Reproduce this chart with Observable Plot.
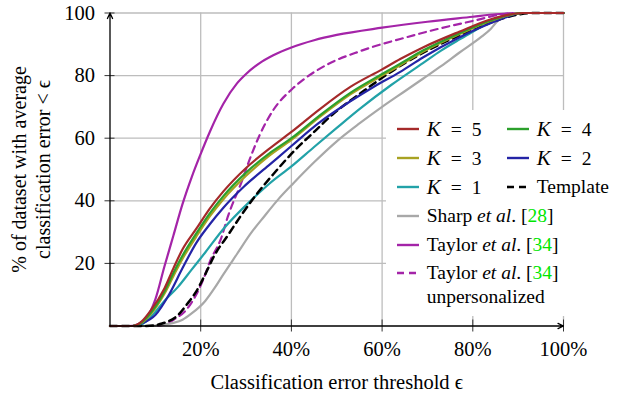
<!DOCTYPE html>
<html>
<head>
<meta charset="utf-8">
<script src="https://cdn.jsdelivr.net/npm/d3@7"></script>
<script src="https://cdn.jsdelivr.net/npm/@observablehq/plot@0.6"></script>
<style>
  body { margin: 0; background: #fff; }
  #wrap { position: relative; width: 617px; height: 396px; font-family: "Liberation Serif", "Times New Roman", Times, "DejaVu Serif", serif; }
  #wrap svg text { font-family: "Liberation Serif", "Times New Roman", Times, "DejaVu Serif", serif; }
  #legend { position: absolute; left: 386px; top: 110px; width: 231px; height: 206px; background: #fff; font-size: 19.5px; color: #000; }
  .item { position: absolute; white-space: nowrap; line-height: 24px; }
  .item svg { position: absolute; top: 2px; }
  .cite { color: #00e600; }
  .eq { margin: 0 10px; }
  .mk { font-size: 21px; }
</style>
</head>
<body>
<div id="wrap"></div>
<script>
// ---- data (x = classification error threshold %, y = % of dataset) ----
const xTicks = [20, 40, 60, 80, 100];
const yTicks = [20, 40, 60, 80, 100];

const k5 = [[0,0],[5,0],[7,1.5],[9,5],[12,12],[14,18.5],[16,24.5],[19,31],[22,37.5],[25,43],[30,50.5],[35,56.5],[40,62],[46,69],[53,76.4],[60,82],[64,85.3],[69,89],[77,94],[84,98],[88,99.5],[91,100],[100,100]];
const k4 = [[0,0],[5,0],[7,1.2],[9,4.2],[12,11],[14,17],[16,22.5],[19,29.5],[22,36],[25,41.5],[30,49],[35,55],[40,60],[46,67],[53,74.5],[60,80.5],[64,83.8],[69,88],[77,93.5],[84,97.7],[88,99.4],[91,100],[100,100]];
const k3 = [[0,0],[5,0],[7,1],[9,3.8],[12,10.3],[14,16],[16,21.5],[19,28.5],[22,35],[25,40.5],[30,48],[35,54.3],[40,59.5],[46,66.5],[53,74],[60,80],[64,83.3],[69,87.6],[77,93.2],[84,97.5],[88,99.3],[91,100],[100,100]];
const k2 = [[0,0],[5,0],[7,0.8],[10,3.5],[13,10],[16,18.5],[19,26.5],[22,32.5],[25,37.8],[29.5,44.5],[35,51.3],[40,57.5],[46,64.8],[53,71.8],[58,76.3],[64,81.2],[69,85.8],[77,92.2],[84,96.8],[88,99],[91,100],[100,100]];
const k1 = [[0,0],[6,0],[8,1.5],[10,4.5],[12,8],[15,12.5],[18,18],[21,23.5],[25,31],[31,40],[35,45.3],[40,51],[45,57.2],[50,63.3],[55,69.3],[62,77],[69,84],[73,88],[77,91.5],[80,94],[84,97.3],[88,99.3],[92,100],[100,100]];
const template = [[0,0],[8,0],[11.5,0.8],[15,3.5],[17,7],[19,11],[21,16.5],[23,22.5],[26,29],[29,35.5],[32,41.5],[36,48.5],[41,56.5],[45,62],[49,67.5],[53,72],[57,76.2],[60,79.3],[65,84],[70,88],[75,91.5],[80,94.5],[85,97.5],[90,99.5],[93,100],[100,100]];
const sharp = [[0,0],[8,0],[11,0.3],[14,1],[16,2],[18,4],[21,8],[23,12],[25,16.5],[28,23],[31,29.5],[34,35],[37,40.3],[40.5,45.7],[45,52.3],[50,59],[55,64.7],[60,70],[65,75],[69,79],[73,83],[77,87.3],[82,92.5],[84,95],[85.5,97.5],[88,99.3],[90,100],[100,100]];
const taylor = [[0,0],[4,0],[6,0.5],[8,2.5],[10,8.5],[12,19],[14,29],[16,39],[18,47.5],[20,55],[22,62],[25,71],[28,77.5],[30,80.5],[33,84],[36,86.5],[40,89],[45,91.3],[50,93],[60,95.3],[70,97.2],[80,98.8],[85,99.6],[90,100],[100,100]];
const taylorUnpers = [[0,0],[10,0],[12,0.5],[14,2],[17,5.5],[19,10],[21,16.5],[22,20.5],[24.5,28],[26,35],[29,46],[31,54],[33,61],[36,69],[40,75.5],[42,78],[46,82],[50,85],[54,87.2],[58,89.2],[64,91.7],[72,94.8],[81,97.8],[86,99.5],[90,100],[100,100]];

const colors = {
  k5: "#a52a2a", k4: "#2ca02c", k3: "#a8a222", k2: "#2424a6",
  k1: "#22a2a8", template: "#000000", sharp: "#a8a8a8", taylor: "#a424a8"
};

const lineOpts = (color, dash) => ({
  x: d => d[0], y: d => d[1], stroke: color, strokeWidth: 2.2,
  curve: "monotone-x", strokeDasharray: dash || null
});

const serif = "'Liberation Serif', 'Times New Roman', Times, 'DejaVu Serif', serif";

const chart = Plot.plot({
  width: 617, height: 396,
  marginLeft: 109.5, marginRight: 54, marginTop: 12.5, marginBottom: 70.5,
  x: { domain: [0, 100] },
  y: { domain: [0, 100] },
  style: { fontFamily: serif, fontSize: "20px", color: "#000", background: "transparent", overflow: "visible" },
  marks: [
    Plot.gridX(xTicks, { stroke: "#bdbdbd", strokeOpacity: 1, strokeWidth: 1.3 }),
    Plot.gridY(yTicks, { stroke: "#bdbdbd", strokeOpacity: 1, strokeWidth: 1.3 }),
    Plot.line(taylorUnpers, lineOpts(colors.taylor, "7,5")),
    Plot.line(taylor, lineOpts(colors.taylor)),
    Plot.line(sharp, lineOpts(colors.sharp)),
    Plot.line(k1, lineOpts(colors.k1)),
    Plot.line(template, { ...lineOpts(colors.template, "7,5"), strokeWidth: 2.5 }),
    Plot.line(k2, lineOpts(colors.k2)),
    Plot.line(k3, lineOpts(colors.k3)),
    Plot.line(k4, lineOpts(colors.k4)),
    Plot.line(k5, lineOpts(colors.k5)),
    Plot.axisX(xTicks, { tickSize: 12, dy: -6, tickPadding: 9, tickFormat: d => d + "%", label: null, fontSize: 20.5, stroke: "#333", strokeWidth: 1 }),
    Plot.axisY(yTicks, { tickSize: 10, dx: 5, tickPadding: 10, label: null, fontSize: 20.5, stroke: "#333", strokeWidth: 1 }),
    Plot.arrow([0], { x1: 0, y1: 0, x2: 100, y2: 0, stroke: "#000", strokeWidth: 1.3, headLength: 7, headAngle: 50 }),
    Plot.arrow([0], { x1: 0, y1: 0, x2: 0, y2: 100, stroke: "#000", strokeWidth: 1.3, headLength: 7, headAngle: 50 }),
    Plot.text(["Classification error threshold ϵ"], { frameAnchor: "bottom", dy: 56, lineAnchor: "middle", textAnchor: "middle", fontSize: 20.5 }),
    Plot.text(["% of dataset with average\nclassification error < ϵ"], { frameAnchor: "left", rotate: -90, dx: -79.5, textAnchor: "middle", lineAnchor: "middle", lineHeight: 1.2, fontSize: 20 })
  ]
});
document.getElementById("wrap").appendChild(chart);

// ---- legend ----
const legendEntries = [
  { html: '<i class="mk">K</i><span class="eq">=</span>5', color: colors.k5, col: 0, row: 0 },
  { html: '<i class="mk">K</i><span class="eq">=</span>4', color: colors.k4, col: 1, row: 0 },
  { html: '<i class="mk">K</i><span class="eq">=</span>3', color: colors.k3, col: 0, row: 1 },
  { html: '<i class="mk">K</i><span class="eq">=</span>2', color: colors.k2, col: 1, row: 1 },
  { html: '<i class="mk">K</i><span class="eq">=</span>1', color: colors.k1, col: 0, row: 2 },
  { html: 'Template', color: colors.template, col: 1, row: 2, dash: "7,5" },
  { html: 'Sharp <i>et al</i>. [<span class="cite">28</span>]', color: colors.sharp, col: 0, row: 3 },
  { html: 'Taylor <i>et al</i>. [<span class="cite">34</span>]', color: colors.taylor, col: 0, row: 4 },
  { html: 'Taylor <i>et al</i>. [<span class="cite">34</span>]<br>unpersonalized', color: colors.taylor, col: 0, row: 5, dash: "7,5" }
];
const legend = document.createElement("div");
legend.id = "legend";
legendEntries.forEach(e => {
  const it = document.createElement("div");
  it.className = "item";
  it.style.left = (e.col ? 150.7 : 40.7) + "px";
  it.style.top = (7.3 + e.row * 28.8) + "px";
  it.innerHTML = e.html;
  const s = document.createElementNS("http://www.w3.org/2000/svg", "svg");
  s.setAttribute("width", 22); s.setAttribute("height", 20);
  s.style.left = "-30px";
  const l = document.createElementNS("http://www.w3.org/2000/svg", "line");
  l.setAttribute("x1", 0); l.setAttribute("x2", 22); l.setAttribute("y1", 10); l.setAttribute("y2", 10);
  l.setAttribute("stroke", e.color); l.setAttribute("stroke-width", e.dash ? 2.6 : 2.4);
  if (e.dash) l.setAttribute("stroke-dasharray", e.dash);
  s.appendChild(l);
  it.appendChild(s);
  legend.appendChild(it);
});
document.getElementById("wrap").appendChild(legend);
</script>
</body>
</html>
